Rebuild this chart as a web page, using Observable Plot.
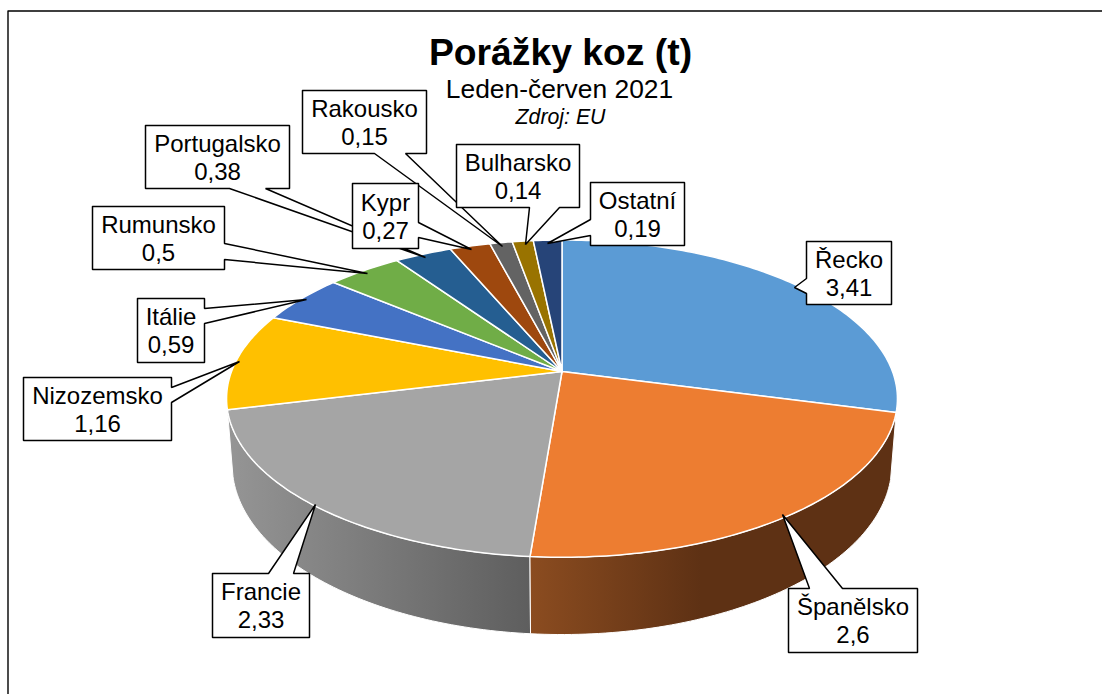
<!DOCTYPE html>
<html><head><meta charset="utf-8">
<style>html,body{margin:0;padding:0;background:#fff}svg{display:block}</style>
<script src="https://cdn.jsdelivr.net/npm/d3@7"></script>
<script src="https://cdn.jsdelivr.net/npm/@observablehq/plot@0.6"></script>
</head><body><div id="chart"></div>
<script>
const categories = ["Řecko","Španělsko","Francie","Nizozemsko","Itálie","Rumunsko","Portugalsko","Kypr","Rakousko","Bulharsko","Ostatní"];
const values = [3.41,2.6,2.33,1.16,0.59,0.5,0.38,0.27,0.15,0.14,0.19];
const colors = ["#5b9bd5","#ed7d31","#a5a5a5","#ffc000","#4472c4","#70ad47","#255e91","#9e480e","#636363","#997300","#264478"];
const titleText = "Porážky koz (t)";
const subtitleText = "Leden-červen 2021";
const sourceText = "Zdroj: EU";

// Callout layout: box edges, side carrying the pointer, pointer base, pointer tip (drawing order)
const calloutLayout = [
  {name:"Rakousko",   x0:302,y0:90, x1:426,y1:153, side:"b",a:374,b:405,tx:502,ty:246},
  {name:"Portugalsko",x0:145,y0:125,x1:289,y1:188, side:"b",a:229,b:265,tx:425,ty:257},
  {name:"Rumunsko",   x0:92, y0:206,x1:224,y1:269, side:"r",a:243,b:259,tx:367,ty:273},
  {name:"Itálie",     x0:137,y0:298,x1:204,y1:362, side:"r",a:308,b:323,tx:306,ty:299},
  {name:"Nizozemsko", x0:23, y0:377,x1:171,y1:440, side:"r",a:387,b:402,tx:239,ty:361},
  {name:"Kypr",       x0:352,y0:183,x1:418,y1:248, side:"r",a:222,b:237,tx:471,ty:249},
  {name:"Bulharsko",  x0:456,y0:144,x1:579,y1:207, side:"b",a:529,b:559,tx:525,ty:244},
  {name:"Ostatní",    x0:590,y0:182,x1:684,y1:245, side:"l",a:219,b:235,tx:547,ty:243},
  {name:"Řecko",      x0:806,y0:241,x1:891,y1:304, side:"l",a:278,b:293,tx:794,ty:287},
  {name:"Francie",    x0:212,y0:573,x1:309,y1:637, side:"t",a:268,b:293,tx:315,ty:504},
  {name:"Španělsko",  x0:788,y0:588,x1:917,y1:652, side:"t",a:809,b:842,tx:782,ty:514}
];

// Perspective of the pie's top and bottom discs
const cx = 561.5, persp = 0.171;
const topDisc = {w:330.5, h:154, y0:371};
const bottomDisc = {w:325, h:165, y0:435};
function project(disc, deg) {
  const t = deg*Math.PI/180, u = Math.sin(t), v = -Math.cos(t), d = 1-persp*v;
  return {x: cx+disc.w*u/d, y: disc.y0+disc.h*v/d};
}
const total = d3.sum(values);
const slices = []; let acc = 0;
categories.forEach((name,i)=>{ const start=acc/total*360; acc+=values[i]; slices.push({name,start,end:acc/total*360,value:values[i]}); });
function arc(disc,a,b){ const n=Math.max(2,Math.ceil(Math.abs(b-a))), out=[]; for(let i=0;i<=n;i++) out.push(project(disc,a+(b-a)*i/n)); return out; }

const topPts = slices.flatMap(s=>{
  const c={x:cx,y:topDisc.y0}, pts=[c,...arc(topDisc,s.start,s.end),c];
  return pts.map(p=>({...p,name:s.name}));
});
function sidePts(name){ const s=slices.find(d=>d.name===name);
  const pts=[...arc(topDisc,s.start,s.end),...arc(bottomDisc,s.end,s.start)]; pts.push(pts[0]);
  return pts.map(p=>({...p,name})); }

const calloutPts = calloutLayout.flatMap(c=>{
  const {x0,y0,x1,y1,a,b,tx,ty}=c; const tip=[tx,ty]; let p;
  if(c.side==="b") p=[[x0,y0],[x1,y0],[x1,y1],[b,y1],tip,[a,y1],[x0,y1]];
  if(c.side==="t") p=[[x0,y0],[a,y0],tip,[b,y0],[x1,y0],[x1,y1],[x0,y1]];
  if(c.side==="r") p=[[x0,y0],[x1,y0],[x1,a],tip,[x1,b],[x1,y1],[x0,y1]];
  if(c.side==="l") p=[[x0,y0],[x1,y0],[x1,y1],[x0,y1],[x0,b],tip,[x0,a]];
  p.push(p[0]);
  return p.map(([x,y])=>({x,y,name:c.name}));
});
const calloutText = calloutLayout.map(c=>({
  x:(c.x0+c.x1)/2, y:(c.y0+c.y1)/2,
  label:c.name+"\n"+String(values[categories.indexOf(c.name)]).replace(".",",")
}));

const defs = () => {
  const d = d3.create("svg:defs");
  const grad = (id,x1,x2,stops)=>{ const g=d.append("linearGradient").attr("id",id).attr("gradientUnits","userSpaceOnUse").attr("x1",x1).attr("x2",x2).attr("y1",0).attr("y2",0);
    stops.forEach(([o,c])=>g.append("stop").attr("offset",o).attr("stop-color",c)); };
  grad("sideGrey",228,530,[[0,"#959595"],[1,"#5e5e5e"]]);
  grad("sideOrange",530,700,[[0,"#8b4c20"],[1,"#5e3114"]]);
  return d.node();
};
const font = "Liberation Sans, Arial, sans-serif";
const plot = Plot.plot({
  width:1102, height:694, margin:0,
  x:{domain:[0,1102],range:[0,1102],axis:null},
  y:{domain:[0,694],range:[0,694],axis:null},
  color:{domain:categories,range:colors},
  style:{background:"#fff",fontFamily:font},
  marks:[
    defs,
    Plot.line([{x:7.5,y:694},{x:7.5,y:10.5},{x:1102,y:10.5}],{x:"x",y:"y",stroke:"#000",strokeWidth:1.4}),
    Plot.line(sidePts("Francie"),{x:"x",y:"y",fill:"url(#sideGrey)",stroke:"#fff",strokeWidth:1}),
    Plot.line(sidePts("Španělsko"),{x:"x",y:"y",fill:"url(#sideOrange)",stroke:"#fff",strokeWidth:1}),
    Plot.line(topPts,{x:"x",y:"y",z:"name",fill:"name",stroke:"#fff",strokeWidth:1.5,strokeLinejoin:"round"}),
    Plot.line(calloutPts,{x:"x",y:"y",z:"name",fill:"#fff",stroke:"#000",strokeWidth:1.5,strokeLinejoin:"miter"}),
    Plot.text(calloutText,{x:"x",y:"y",text:"label",fontSize:24,lineHeight:1.167,lineAnchor:"middle",textAnchor:"middle",fill:"#000"}),
    Plot.text([titleText],{x:()=>560,y:()=>53,text:d=>d,fontSize:37.3,fontWeight:"bold",textAnchor:"middle",fill:"#000"}),
    Plot.text([subtitleText],{x:()=>559,y:()=>89,text:d=>d,fontSize:26.4,textAnchor:"middle",fill:"#000"}),
    Plot.text([sourceText],{x:()=>560,y:()=>117,text:d=>d,fontSize:21.3,fontStyle:"italic",textAnchor:"middle",fill:"#000"})
  ]
});
document.getElementById("chart").append(plot);
</script></body></html>
